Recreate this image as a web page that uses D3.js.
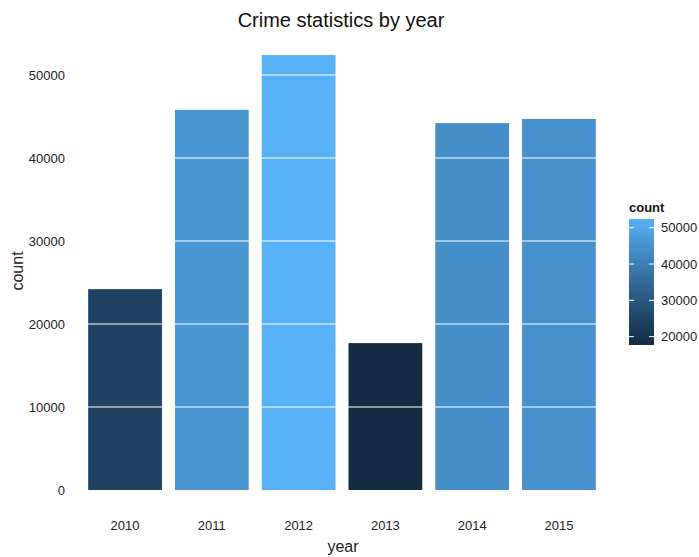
<!DOCTYPE html>
<html>
<head>
<meta charset="utf-8">
<script src="https://cdn.jsdelivr.net/npm/d3@7"></script>
<style>
  body { margin: 0; background: #fff; }
  text { font-family: "Liberation Sans", Arial, sans-serif; }
</style>
</head>
<body>
<div id="chart"></div>
<script>
// data
var years = ["2010", "2011", "2012", "2013", "2014", "2015"];
var counts = [24200, 45800, 52400, 17700, 44200, 44700];
var yTicks = [0, 10000, 20000, 30000, 40000, 50000];
var legendTicks = [20000, 30000, 40000, 50000];

var W = 699, H = 557;
var svg = d3.select("#chart").append("svg")
  .attr("width", W).attr("height", H);

var data = years.map((y, i) => ({ year: y, count: counts[i] }));

// panel
var x = d3.scaleBand().domain(years).range([73, 611])
  .paddingInner(0.15).paddingOuter(0.175);
var y = d3.scaleLinear().domain([0, 50000]).range([490, 75]);

var color = d3.scaleLinear()
  .domain(d3.extent(counts))
  .range(["#132B43", "#56B1F7"])
  .interpolate(d3.interpolateLab);

svg.append("g").selectAll("rect")
  .data(data).enter().append("rect")
  .attr("x", d => x(d.year))
  .attr("width", x.bandwidth())
  .attr("y", d => y(d.count))
  .attr("height", d => y(0) - y(d.count))
  .attr("fill", d => color(d.count));

// white grid lines, only visible over the bars
svg.append("g").selectAll("line")
  .data(yTicks.slice(1)).enter().append("line")
  .attr("x1", 73).attr("x2", 611)
  .attr("y1", d => y(d)).attr("y2", d => y(d))
  .attr("stroke", "#fff").attr("stroke-width", 1.1);

// axes
var yAxis = svg.append("g").attr("transform", "translate(65,0)")
  .call(d3.axisLeft(y).tickValues(yTicks).tickSize(0).tickPadding(0).tickFormat(d3.format("d")));
yAxis.select(".domain").remove();
yAxis.selectAll("text").attr("font-size", 13).attr("fill", "#222")
  .attr("font-family", "Liberation Sans, Arial, sans-serif");

var xAxis = svg.append("g").attr("transform", "translate(0,521)")
  .call(d3.axisBottom(x).tickSize(0).tickPadding(0));
xAxis.select(".domain").remove();
xAxis.selectAll("text").attr("font-size", 13).attr("fill", "#222")
  .attr("font-family", "Liberation Sans, Arial, sans-serif");

// titles
svg.append("text")
  .attr("x", 341).attr("y", 27)
  .attr("text-anchor", "middle")
  .attr("font-size", 20).attr("fill", "#111")
  .text("Crime statistics by year");

svg.append("text")
  .attr("x", 343).attr("y", 552)
  .attr("text-anchor", "middle")
  .attr("font-size", 16).attr("fill", "#222")
  .text("year");

svg.append("text")
  .attr("transform", "translate(23,271) rotate(-90)")
  .attr("text-anchor", "middle")
  .attr("font-size", 16).attr("fill", "#222")
  .text("count");

// colour bar legend
var barX = 629, barW = 25, barTop = 219, barBottom = 345;
var defs = svg.append("defs");
var grad = defs.append("linearGradient").attr("id", "cbar")
  .attr("x1", 0).attr("y1", 1).attr("x2", 0).attr("y2", 0);
d3.range(0, 1.0001, 0.1).forEach(t => {
  var v = color.domain()[0] + t * (color.domain()[1] - color.domain()[0]);
  grad.append("stop").attr("offset", t).attr("stop-color", color(v));
});

var ly = d3.scaleLinear().domain(color.domain()).range([barBottom, barTop]);

svg.append("text")
  .attr("x", barX).attr("y", 212)
  .attr("font-size", 13).attr("font-weight", "bold").attr("fill", "#111")
  .text("count");

svg.append("rect")
  .attr("x", barX).attr("y", barTop)
  .attr("width", barW).attr("height", barBottom - barTop)
  .attr("fill", "url(#cbar)");

var lt = svg.append("g").selectAll("g")
  .data(legendTicks).enter().append("g");
lt.append("line")
  .attr("x1", barX).attr("x2", barX + 5)
  .attr("y1", d => ly(d)).attr("y2", d => ly(d))
  .attr("stroke", "#fff");
lt.append("line")
  .attr("x1", barX + barW - 5).attr("x2", barX + barW)
  .attr("y1", d => ly(d)).attr("y2", d => ly(d))
  .attr("stroke", "#fff");
lt.append("text")
  .attr("x", barX + barW + 7).attr("y", d => ly(d))
  .attr("dy", "0.35em")
  .attr("font-size", 13).attr("fill", "#222")
  .text(d => d);
</script>
</body>
</html>
